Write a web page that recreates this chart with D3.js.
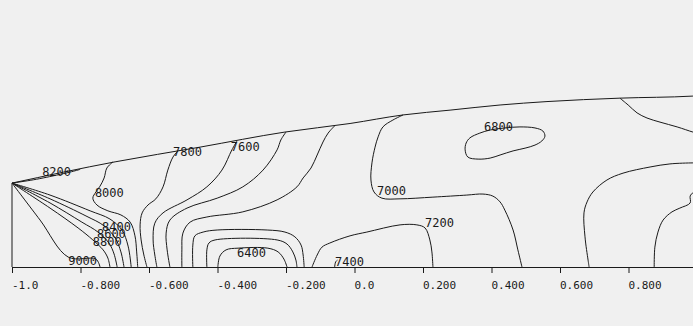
<!DOCTYPE html>
<html>
<head>
<meta charset="utf-8">
<script src="https://cdn.jsdelivr.net/npm/d3@7"></script>
<style>
  html, body { margin: 0; padding: 0; background: #f0f0f0; }
  svg { display: block; }
</style>
</head>
<body>
<svg id="chart" width="693" height="326"></svg>
<script>
// Axial station ticks
const xTicks = [-1.0, -0.8, -0.6, -0.4, -0.2, 0.0, 0.2, 0.4, 0.6, 0.8];

// Body outline (x, r)
const outline = [[-1.000,0.245],[-0.699,0.307],[-0.451,0.350],[-0.203,0.394],[-0.013,0.419],
  [0.142,0.444],[0.279,0.458],[0.425,0.473],[0.562,0.483],[0.775,0.493],[0.988,0.499],[1.000,0.500]];

// Iso-lines, one array per traced line (x, r)
const iso9000 = [[-1.000,0.245],[-0.918,0.137],[-0.836,0.029],[-0.755,0.023],[-0.743,0.000]];
const iso8800 = [[-1.000,0.245],[-0.889,0.172],[-0.807,0.114],[-0.764,0.079],[-0.734,0.050],[-0.720,0.026],[-0.714,0.000]];
const iso8600 = [[-1.000,0.245],[-0.889,0.187],[-0.796,0.131],[-0.749,0.102],[-0.717,0.070],[-0.702,0.038],[-0.693,0.000]];
const iso8400 = [[-1.000,0.245],[-0.889,0.199],[-0.784,0.149],[-0.731,0.120],[-0.699,0.085],[-0.682,0.044],[-0.673,0.000]];
const iso8200Low = [[-1.000,0.245],[-0.889,0.210],[-0.772,0.164],[-0.714,0.140],[-0.679,0.108],[-0.661,0.061],[-0.652,0.000]];
const iso8200Nose = [[-1.000,0.245],[-0.947,0.253],[-0.909,0.260],[-0.831,0.277],[-0.801,0.285]];
const iso8000 = [[-0.705,0.307],[-0.723,0.289],[-0.731,0.260],[-0.743,0.236],[-0.755,0.219],[-0.764,0.201],
  [-0.752,0.181],[-0.720,0.164],[-0.682,0.152],[-0.655,0.131],[-0.641,0.091],[-0.636,0.044],[-0.633,0.000]];
const iso7800 = [[-0.515,0.339],[-0.530,0.321],[-0.545,0.283],[-0.559,0.234],[-0.580,0.199],[-0.603,0.181],
  [-0.620,0.158],[-0.626,0.123],[-0.623,0.079],[-0.615,0.035],[-0.606,0.000]];
const iso7600 = [[-0.343,0.368],[-0.358,0.342],[-0.387,0.283],[-0.431,0.234],[-0.489,0.196],[-0.559,0.158],
  [-0.583,0.128],[-0.588,0.079],[-0.583,0.035],[-0.577,0.000]];
const iso7400 = [[-0.200,0.394],[-0.215,0.371],[-0.226,0.342],[-0.267,0.283],[-0.326,0.234],[-0.401,0.201],
  [-0.489,0.172],[-0.539,0.137],[-0.550,0.099],[-0.547,0.050],[-0.539,0.000]];
const iso7200 = [[-0.057,0.413],[-0.077,0.391],[-0.092,0.365],[-0.109,0.327],[-0.127,0.289],[-0.150,0.260],
  [-0.168,0.234],[-0.226,0.196],[-0.326,0.161],[-0.431,0.146],[-0.480,0.131],[-0.501,0.099],[-0.504,0.050],[-0.504,0.000]];
const bowl6800 = [[-0.472,0.000],[-0.472,0.064],[-0.466,0.091],[-0.442,0.102],[-0.401,0.108],[-0.255,0.108],
  [-0.203,0.102],[-0.174,0.088],[-0.156,0.064],[-0.150,0.035],[-0.147,0.000]];
const bowl6600 = [[-0.431,0.000],[-0.431,0.050],[-0.425,0.070],[-0.407,0.079],[-0.226,0.079],[-0.197,0.067],
  [-0.180,0.044],[-0.171,0.020],[-0.168,0.000]];
const bowl6400 = [[-0.399,0.000],[-0.393,0.032],[-0.375,0.050],[-0.340,0.055],[-0.253,0.055],[-0.223,0.044],
  [-0.206,0.023],[-0.197,0.000]];
const arch7200 = [[-0.124,0.000],[-0.109,0.035],[-0.095,0.058],[-0.072,0.070],[-0.013,0.091],[0.036,0.102],
  [0.133,0.123],[0.182,0.123],[0.206,0.114],[0.220,0.079],[0.226,0.044],[0.229,0.000]];
const bump7400 = [[-0.058,0.000],[-0.055,0.015],[-0.050,0.020]];
const iso7000 = [[0.142,0.444],[0.112,0.429],[0.083,0.409],[0.069,0.380],[0.060,0.350],[0.051,0.304],[0.048,0.254],
  [0.057,0.219],[0.080,0.201],[0.133,0.199],[0.229,0.204],[0.328,0.210],[0.375,0.213],[0.404,0.207],[0.425,0.190],
  [0.439,0.166],[0.463,0.108],[0.477,0.050],[0.489,0.000]];
const loop6800 = [[0.323,0.342],[0.326,0.362],[0.337,0.377],[0.366,0.391],[0.396,0.400],[0.439,0.406],[0.483,0.409],
  [0.527,0.406],[0.550,0.397],[0.556,0.382],[0.547,0.368],[0.527,0.356],[0.498,0.347],[0.463,0.339],[0.425,0.327],
  [0.396,0.318],[0.361,0.315],[0.331,0.321]];
const tail7000 = [[0.775,0.493],[0.799,0.473],[0.825,0.450],[0.854,0.435],[0.892,0.423],[0.942,0.409],[0.988,0.394],[1.000,0.391]];
const tail6800 = [[1.000,0.304],[0.988,0.304],[0.921,0.301],[0.863,0.292],[0.784,0.274],[0.737,0.254],[0.696,0.219],
  [0.679,0.190],[0.670,0.158],[0.673,0.088],[0.682,0.020],[0.685,0.000]];
const tail6600 = [[1.000,0.213],[0.988,0.216],[0.980,0.207],[0.980,0.187],[0.950,0.172],[0.927,0.161],[0.901,0.137],
  [0.886,0.102],[0.877,0.058],[0.875,0.000]];

// Level of each line and where its value label sits (x, r of the label's left baseline)
const contours = [
  { level: 9000, pts: iso9000, label: [-0.836, 0.006] },
  { level: 8800, pts: iso8800, label: [-0.764, 0.061] },
  { level: 8600, pts: iso8600, label: [-0.752, 0.085] },
  { level: 8400, pts: iso8400, label: [-0.737, 0.105] },
  { level: 8200, pts: iso8200Low },
  { level: 8200, pts: iso8200Nose, label: [-0.912, 0.266] },
  { level: 8000, pts: iso8000, label: [-0.758, 0.204] },
  { level: 7800, pts: iso7800, label: [-0.530, 0.324] },
  { level: 7600, pts: iso7600, label: [-0.361, 0.339] },
  { level: 7400, pts: iso7400 },
  { level: 7200, pts: iso7200 },
  { level: 6800, pts: bowl6800 },
  { level: 6600, pts: bowl6600 },
  { level: 6400, pts: bowl6400, label: [-0.343, 0.029] },
  { level: 7200, pts: arch7200, label: [0.206, 0.117] },
  { level: 7400, pts: bump7400, label: [-0.057, 0.003] },
  { level: 7000, pts: iso7000, label: [0.066, 0.210] },
  { level: 6800, pts: loop6800, closed: true, label: [0.378, 0.397] },
  { level: 7000, pts: tail7000 },
  { level: 6800, pts: tail6800 },
  { level: 6600, pts: tail6600 }
];

const W = 693, H = 326;
const INK = "#1a1a1a";
const svg = d3.select("#chart");
svg.append("rect").attr("width", W).attr("height", H).attr("fill", "#f0f0f0");

// Equal scaling in x and r so the body keeps its proportions
const x = d3.scaleLinear().domain([-1, 1]).range([12, 697]);
const y = d3.scaleLinear().domain([0, 0.5]).range([267, 95.75]);

const openLine = d3.line().x(d => x(d[0])).y(d => y(d[1])).curve(d3.curveCatmullRom.alpha(0.5));
const closedLine = d3.line().x(d => x(d[0])).y(d => y(d[1])).curve(d3.curveCatmullRomClosed.alpha(0.5));
const outlineLine = d3.line().x(d => x(d[0])).y(d => y(d[1])).curve(d3.curveMonotoneX);

const plot = svg.append("g").attr("fill", "none").attr("stroke", INK).attr("stroke-width", 1);

plot.selectAll("path.iso")
  .data(contours)
  .join("path")
  .attr("class", "iso")
  .attr("d", d => (d.closed ? closedLine : openLine)(d.pts));

// Body surface and nose face
plot.append("path").attr("d", outlineLine(outline));
plot.append("path").attr("d", d3.line().x(d => x(d[0])).y(d => y(d[1]))([[ -1, 0 ], outline[0]]));

// Axis along the centreline
const fmt = v => Number.isInteger(v) ? v.toFixed(1) : v.toFixed(3);
const ax = svg.append("g")
  .attr("transform", `translate(0,${y(0)})`)
  .call(d3.axisBottom(x).tickValues(xTicks).tickSize(6).tickSizeOuter(0).tickFormat(fmt));
ax.select(".domain").attr("stroke", INK);
ax.selectAll(".tick line").attr("stroke", INK);
ax.selectAll(".tick text")
  .attr("text-anchor", "start")
  .attr("x", -0.5)
  .attr("y", 21.5)
  .attr("dy", null)
  .attr("fill", INK)
  .style("font-family", "'DejaVu Sans Mono', monospace")
  .style("font-size", "11px");

// Value labels on the lines
svg.append("g")
  .selectAll("text")
  .data(contours.filter(d => d.label))
  .join("text")
  .attr("x", d => x(d.label[0]))
  .attr("y", d => y(d.label[1]))
  .attr("fill", INK)
  .style("font-family", "'DejaVu Sans Mono', monospace")
  .style("font-size", "12px")
  .text(d => d3.format("d")(d.level));
</script>
</body>
</html>
